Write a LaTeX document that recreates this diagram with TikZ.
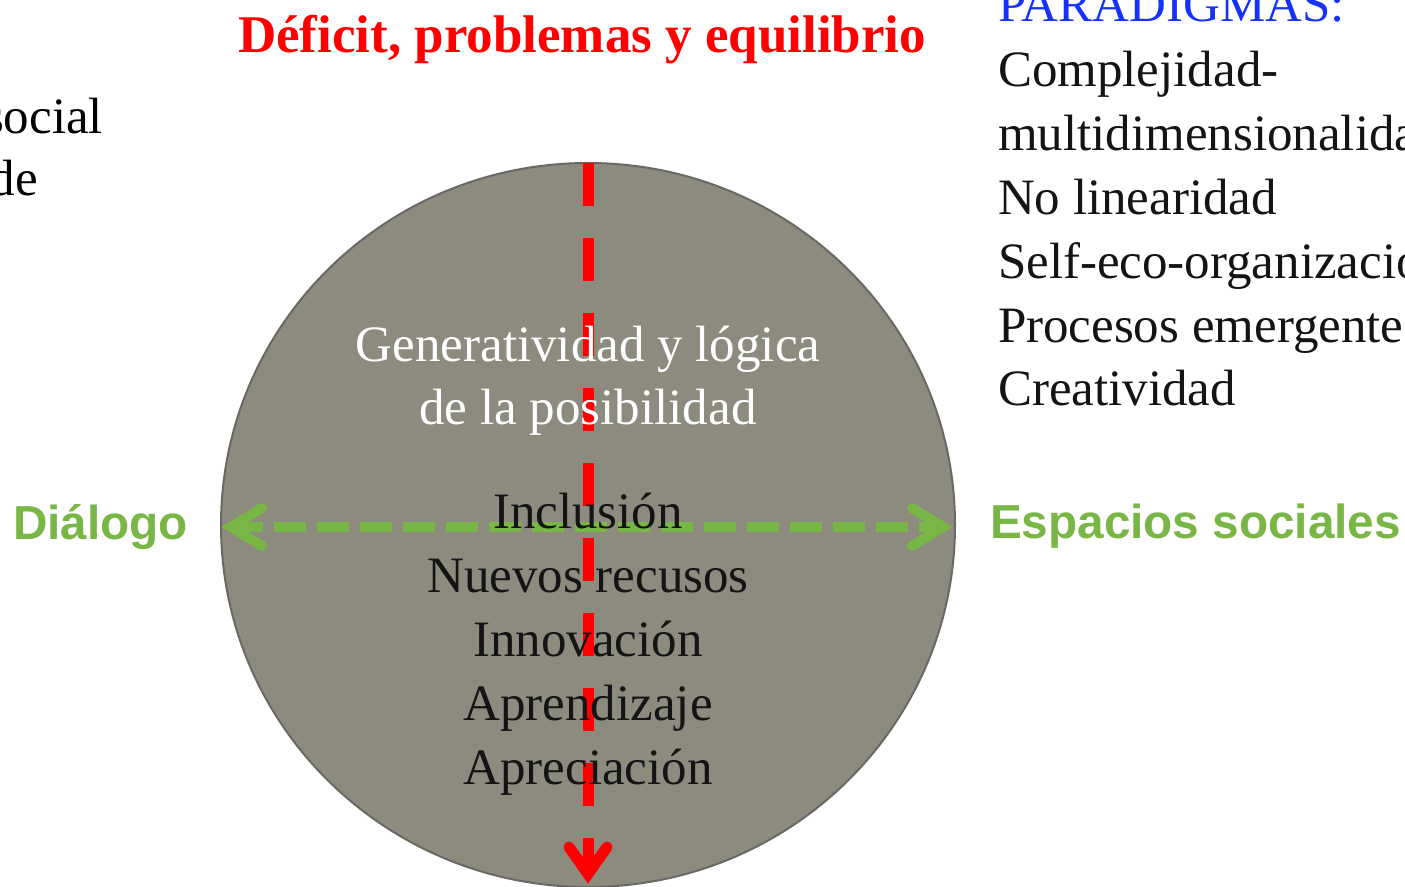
\documentclass[tikz,border=0pt]{standalone}
\usepackage{fontspec}
\setmainfont{Liberation Serif}
\newfontfamily\arialfont{Liberation Sans}
\usetikzlibrary{shapes.geometric}
\definecolor{circfill}{RGB}{140,139,126}
\definecolor{circline}{RGB}{105,105,100}
\definecolor{arrgreen}{RGB}{120,182,70}
\definecolor{arrred}{RGB}{255,0,0}
\definecolor{parablue}{RGB}{20,50,250}
\tikzset{
  txt/.style={inner sep=0pt, outer sep=0pt, font=\fontsize{51}{64}\selectfont},
  whitetxt/.style={txt, text=white, anchor=base},
  blacktxt/.style={txt, text=black!92, anchor=base},
  listtxt/.style={txt, text=black!92, anchor=base west},
  greenlbl/.style={inner sep=0pt, outer sep=0pt, font=\arialfont\bfseries\fontsize{47.7}{56}\selectfont, text=arrgreen},
  redline/.style={draw=arrred, line width=11pt, dash pattern=on 43pt off 32pt},
  greenline/.style={draw=arrgreen, line width=10pt, dash pattern=on 32pt off 11pt},
  redhead/.style={draw=arrred, line width=11pt, line cap=round, miter limit=10},
  greenhead/.style={draw=arrgreen, line width=10pt, line cap=round, miter limit=10},
}
\begin{document}
\begin{tikzpicture}[x=1pt, y=-1pt]
\useasboundingbox (0,0) rectangle (1405,886);
\clip (0,0) rectangle (1405,886);
% circle
\node[ellipse, draw=circline, line width=2pt, fill=circfill, minimum width=734pt, minimum height=724pt, inner sep=0pt, outer sep=0pt] (circ) at (588,525) {};
% title
\node[inner sep=0pt, anchor=base, text=arrred, font=\bfseries\fontsize{53}{64}\selectfont] (title) at (582,52) {Déficit, problemas y equilibrio};
% left partial text
\node[txt, anchor=base east] (social) at (103,133) {social};
\node[txt, anchor=base east] (de) at (38,195) {de};
% right list
\node[txt, anchor=base west, text=parablue] (para) at (998,21) {PARADIGMAS:};
\node[listtxt] (l1) at (998,86) {Complejidad-};
\node[listtxt] (l2) at (998,150) {multidimensionalidad};
\node[listtxt] (l3) at (998,214) {No linearidad};
\node[listtxt] (l4) at (998,278) {Self-eco-organización};
\node[listtxt] (l5) at (998,342) {Procesos emergentes};
\node[listtxt] (l6) at (998,405) {Creatividad};
% green labels
\node[greenlbl, anchor=base west] (dial) at (13,539) {Diálogo};
\node[greenlbl, anchor=base west] (esp) at (990,538) {Espacios sociales};
% axes
\coordinate (rv) at (588,874);
\coordinate (rl) at (569,847);
\coordinate (rr) at (607,847);
\draw[redline] (circ.north) -- (rv);
\draw[redhead] (rl) -- (rv) -- (rr);
\coordinate (gls) at (231,527);
\coordinate (gre) at (945,527);
\coordinate (glv) at (231,527);
\coordinate (gl1) at (262,508);
\coordinate (gl2) at (262,546);
\coordinate (grv) at (943,527);
\coordinate (gr1) at (912,508);
\coordinate (gr2) at (912,546);
\draw[greenline] (gls) -- (gre);
\draw[greenhead] (gl1) -- (glv) -- (gl2);
\draw[greenhead] (gr1) -- (grv) -- (gr2);
% text inside circle
\node[whitetxt] (g1) at (588,361) {Generatividad y lógica};
\node[whitetxt] (g2) at (588,424) {de la posibilidad};
\node[blacktxt] (b1) at (588,528) {Inclusión};
\node[blacktxt] (b2) at (588,592) {Nuevos recusos};
\node[blacktxt] (b3) at (588,656) {Innovación};
\node[blacktxt] (b4) at (588,720) {Aprendizaje};
\node[blacktxt] (b5) at (588,784) {Apreciación};
\end{tikzpicture}
\end{document}
